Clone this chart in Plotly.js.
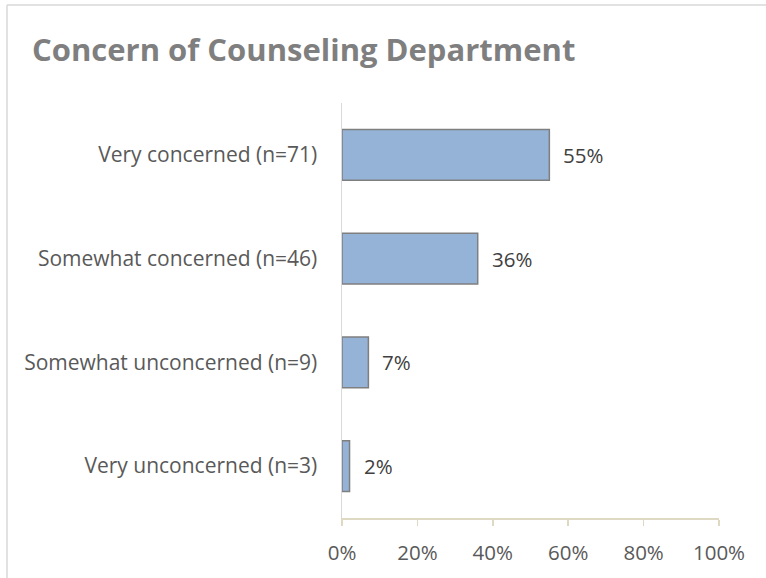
<!DOCTYPE html>
<html>
<head>
<meta charset="utf-8">
<script src="https://cdn.plot.ly/plotly-3.0.1.min.js"></script>
<style>html,body{margin:0;padding:0;background:#fff;}#chart{width:766px;height:578px;}</style>
</head>
<body>
<div id="chart"></div>
<script>
const categories = ["Very concerned (n=71)", "Somewhat concerned (n=46)", "Somewhat unconcerned (n=9)", "Very unconcerned (n=3)"];
const percents = [55, 36, 7, 2];
const valueLabels = ["55%", "36%", "7%", "2%"];
const tickValues = [0, 20, 40, 60, 80, 100];
const tickLabels = ["0%", "20%", "40%", "60%", "80%", "100%"];

const W = 766, H = 578;
const L = 342, R = 47, T = 103, B = 60;
const pw = W - L - R, ph = H - T - B;
const px = x => (x - L) / pw;
const py = y => (H - B - y) / ph;

const font = "'Open Sans', 'Noto Sans', sans-serif";

const trace = {
  type: 'bar',
  orientation: 'h',
  x: percents,
  y: categories,
  width: 0.49,
  marker: {color: '#95b3d7', line: {color: '#7f7f7f', width: 1.5}},
  hoverinfo: 'none'
};

const annotations = categories.map((c, i) => ({
  x: percents[i], y: c, xref: 'x', yref: 'y',
  text: valueLabels[i], showarrow: false,
  xanchor: 'left', xshift: 12,
  font: {family: font, size: 20.5, color: '#404040'}
}));

const layout = {
  width: W, height: H,
  margin: {l: L, r: R, t: T, b: B, pad: 0},
  paper_bgcolor: '#ffffff', plot_bgcolor: '#ffffff',
  showlegend: false,
  title: {
    text: '<b>Concern of Counseling Department</b>',
    font: {family: font, size: 31, color: '#7f7f7f'},
    xref: 'container', yref: 'container',
    x: 32 / W, xanchor: 'left',
    y: 1 - 50 / H, yanchor: 'middle'
  },
  xaxis: {
    range: [0, 100],
    tickvals: tickValues, ticktext: tickLabels,
    showgrid: false, zeroline: false,
    showline: true, linecolor: '#ddd9c3', linewidth: 1.5,
    ticks: 'outside', ticklen: 6, tickcolor: '#ddd9c3', tickwidth: 1.5,
    ticklabelstandoff: 10,
    tickfont: {family: font, size: 20.5, color: '#595959'},
    fixedrange: true
  },
  yaxis: {
    autorange: 'reversed',
    showgrid: false, zeroline: false,
    showline: true, linecolor: '#d9d9d9', linewidth: 1.5,
    ticks: '', ticklabelstandoff: 19,
    tickfont: {family: font, size: 21, color: '#595959'},
    fixedrange: true
  },
  annotations: annotations,
  shapes: [
    {type: 'line', xref: 'paper', yref: 'paper', x0: px(7), x1: px(766), y0: py(5), y1: py(5), line: {color: '#d9d9d9', width: 1.5}},
    {type: 'line', xref: 'paper', yref: 'paper', x0: px(7), x1: px(7), y0: py(5), y1: py(578), line: {color: '#d9d9d9', width: 1.5}}
  ]
};

Plotly.newPlot('chart', [trace], layout, {displayModeBar: false, staticPlot: true});
</script>
</body>
</html>
